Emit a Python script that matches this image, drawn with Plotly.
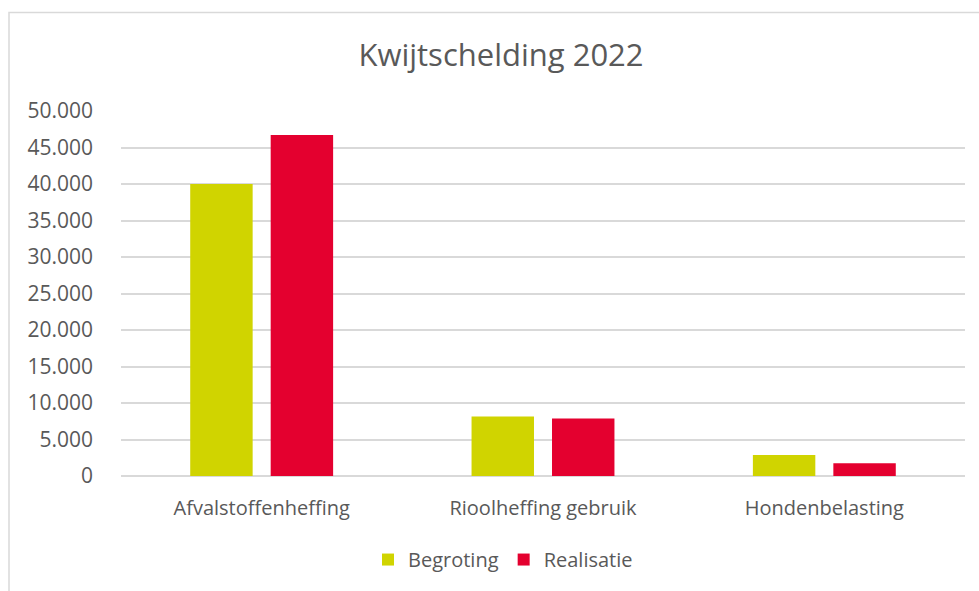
import plotly.graph_objects as go

categories = ["Afvalstoffenheffing", "Rioolheffing gebruik", "Hondenbelasting"]
begroting = [40000, 8150, 2870]
realisatie = [46700, 7870, 1760]
tick_vals = [0, 5000, 10000, 15000, 20000, 25000, 30000, 35000, 40000, 45000, 50000]
tick_text = ["0", "5.000", "10.000", "15.000", "20.000", "25.000", "30.000", "35.000", "40.000", "45.000", "50.000"]

W, H = 979, 591
L, R, T, B = 121, 14, 111, 113
pw, ph = W - L - R, H - T - B
FONT = "Open Sans, Lato, sans-serif"
GREY = "#595959"

fig = go.Figure()
fig.add_bar(name="Begroting", x=categories, y=begroting, marker_color="#D0D400", marker_line_width=0)
fig.add_bar(name="Realisatie", x=categories, y=realisatie, marker_color="#E4002F", marker_line_width=0)

fig.update_layout(
    width=W, height=H,
    margin=dict(l=L, r=R, t=T, b=B),
    paper_bgcolor="white", plot_bgcolor="white",
    font=dict(family=FONT, color=GREY, size=20),
    title=dict(text="Kwijtschelding 2022", x=501 / W, xanchor="center",
               y=1 - 55 / H, yanchor="middle",
               font=dict(size=31, color=GREY)),
    barmode="group", bargap=0.428, bargroupgap=0.224,
    legend=dict(orientation="h", x=(503 - L) / pw, xanchor="center", xref="paper",
                y=-(562 - (T + ph)) / ph, yanchor="middle",
                font=dict(size=20, color=GREY), itemwidth=30),
    showlegend=True,
    xaxis=dict(showgrid=False, showline=False, ticks="", ticklabelstandoff=18,
               tickfont=dict(size=20, color=GREY)),
    yaxis=dict(range=[0, 50000], tickvals=tick_vals, ticktext=tick_text,
               showgrid=True, gridcolor="#D9D9D9", gridwidth=1.5, zeroline=True,
               zerolinecolor="#D9D9D9", zerolinewidth=1.5, ticks="", ticklabelstandoff=27,
               tickfont=dict(size=21, color=GREY)),
    shapes=[dict(type="rect", xref="paper", yref="paper",
                 x0=(9 - L) / pw, x1=(W + 10 - L) / pw,
                 y0=-(B + 10) / ph, y1=1 + (T - 12) / ph,
                 line=dict(color="#D9D9D9", width=1.5), fillcolor="rgba(0,0,0,0)", layer="below")],
)

fig.write_html("out.html", config={"displayModeBar": False},
               post_script="document.body.style.margin='0';")
